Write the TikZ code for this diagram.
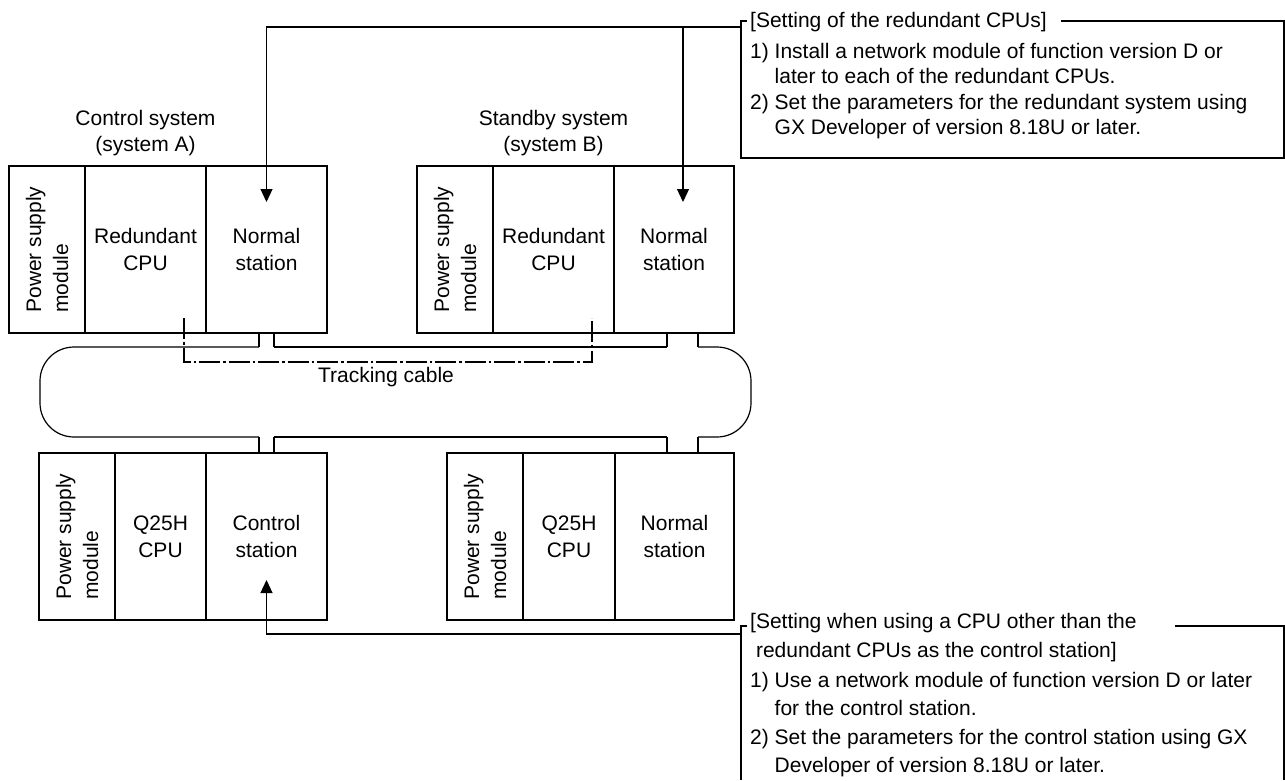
\documentclass[tikz,border=0pt]{standalone}
\usepackage{fontspec}
\setmainfont{Liberation Sans}
\usetikzlibrary{arrows.meta,positioning,calc}
\tikzset{
  module/.style  = {rectangle, draw, line width=1.2pt, outer sep=0pt, inner sep=0pt,
                    minimum height=167pt, align=center},
  psmod/.style   = {module, rotate=90, minimum width=167pt, minimum height=76pt, align=left},
  syslbl/.style  = {align=center, inner sep=0pt, font=\fontsize{21pt}{26pt}\selectfont},
  note/.style    = {align=left, inner sep=0pt},
  hdr/.style     = {inner xsep=3pt, inner ysep=0pt},
  frame/.style   = {rectangle, outer sep=0pt, inner sep=0pt},
  wire/.style    = {line width=1.2pt},
  callarr/.style = {-{Triangle[length=13pt,width=12pt]}, line width=1.2pt},
  trkline/.style = {line width=2.6pt, dash pattern=on 21pt off 3pt on 2.5pt off 3pt},
}

\begin{document}
\begin{tikzpicture}[x=1pt, y=-1pt, font=\fontsize{21pt}{27pt}\selectfont]
\fill[white] (0,0) rectangle (1285,780);
\useasboundingbox (0,0) rectangle (1285,780);

% Control system (system A)
\node[psmod, anchor=north east] (psA) at (9,166) {Power supply\\module};
\node[module, minimum width=121pt, anchor=north west] (cpuA) at (psA.south east) {Redundant\\CPU};
\node[module, minimum width=121pt, right=0pt of cpuA] (nsA) {Normal\\station};
\node[syslbl, above=10pt of cpuA] (lblA) {Control system\\(system A)};

% Standby system (system B)
\node[psmod, anchor=north east] (psB) at (417,166) {Power supply\\module};
\node[module, minimum width=121pt, anchor=north west] (cpuB) at (psB.south east) {Redundant\\CPU};
\node[module, minimum width=120pt, right=0pt of cpuB] (nsB) {Normal\\station};
\node[syslbl, above=10pt of cpuB] (lblB) {Standby system\\(system B)};

% Q25H stations
\node[psmod, anchor=north east] (psC) at (39,453) {Power supply\\module};
\node[module, minimum width=91pt, anchor=north west] (q25C) at (psC.south east) {Q25H\\CPU};
\node[module, minimum width=121pt, right=0pt of q25C] (csC) {Control\\station};

\node[psmod, anchor=north east] (psD) at (447,453) {Power supply\\module};
\node[module, minimum width=92pt, anchor=north west] (q25D) at (psD.south east) {Q25H\\CPU};
\node[module, minimum width=119pt, right=0pt of q25D] (nsD) {Normal\\station};

% network cable
\draw[wire] (274,347) -- (667,347);
\draw[wire, rounded corners=34pt] (698,347) -- (751,347) -- (751,437) -- (698,437);
\draw[wire] (667,437) -- (274,437);
\draw[wire, rounded corners=34pt] (259,437) -- (40,437) -- (40,347) -- (259,347);
\foreach \n/\a/\b in {nsA/-7.5/7.5, nsB/-7/24} {
  \draw[wire] ([xshift=\a pt]\n.south) -- ++(0,14);
  \draw[wire] ([xshift=\b pt]\n.south) -- ++(0,14);
}
\foreach \n/\a/\b in {csC/-7.5/7.5, nsD/-7.5/23.5} {
  \draw[wire] ([xshift=\a pt]\n.north) -- ++(0,-16);
  \draw[wire] ([xshift=\b pt]\n.north) -- ++(0,-16);
}

% tracking cable
\draw[trkline] ([xshift=38.5pt, yshift=15pt]cpuA.south) |- ([xshift=38.5pt, yshift=-29pt]cpuB.south)
  -- ([xshift=38.5pt, yshift=15pt]cpuB.south);
\node (trklbl) at (386,377) {Tracking cable};

% setting of the redundant CPUs
\node[frame, minimum width=543pt, minimum height=137pt, anchor=north west] (boxA) at (741,21) {};
\node[hdr, anchor=base west] (hdrA) at (747,27) {[Setting of the redundant CPUs]};
\node[note, anchor=north west, font=\fontsize{21pt}{25.5pt}\selectfont] (noteA) at (750,43)
  {1) Install a network module of function version D or\\
  \phantom{1) }later to each of the redundant CPUs.\\
  2) Set the parameters for the redundant system using\\
  \phantom{1) }GX Developer of version 8.18U or later.};
\draw[wire] (hdrA.west |- boxA.north) -- (boxA.north west) -- (boxA.south west)
  -- (boxA.south east) -- (boxA.north east) -- ($(hdrA.east |- boxA.north)+(11,0)$);

\coordinate (tipB) at ([xshift=9pt, yshift=-36pt]nsB.north);
\draw[callarr] ([yshift=-6pt]boxA.north west) -| ([yshift=-36pt]nsA.north);
\draw[callarr] ([yshift=-6pt]boxA.north west -| tipB) -- (tipB);

% setting for the control station
\node[frame, minimum width=543pt, minimum height=154pt, anchor=north west] (boxB) at (741,626) {};
\node[note, hdr, anchor=north west, font=\fontsize{21pt}{28.5pt}\selectfont] (hdrB) at (747,613.5)
  {[Setting when using a CPU other than the\\\phantom{[}redundant CPUs as the control station]};
\node[note, anchor=north west, font=\fontsize{21pt}{28.5pt}\selectfont] (noteB) at (750,672)
  {1) Use a network module of function version D or later\\
  \phantom{1) }for the control station.\\
  2) Set the parameters for the control station using GX\\
  \phantom{1) }Developer of version 8.18U or later.};
\draw[wire] (hdrB.west |- boxB.north) -- (boxB.north west) -- (boxB.south west);
\draw[wire] ($(hdrB.east |- boxB.north)+(35,0)$) -- (boxB.north east) -- (boxB.south east);

\draw[callarr] ([yshift=-8pt]boxB.north west) -| ([yshift=40pt]csC.south);

\end{tikzpicture}
\end{document}
